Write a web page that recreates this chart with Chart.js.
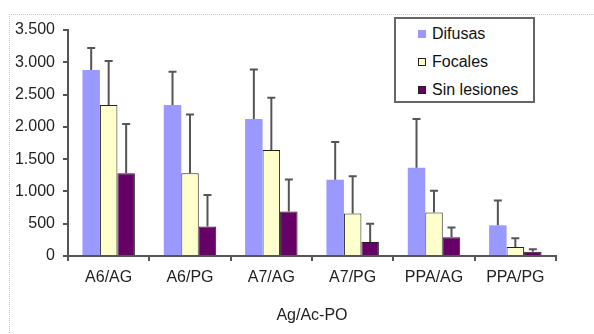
<!DOCTYPE html>
<html>
<head>
<meta charset="utf-8">
<script src="https://cdn.jsdelivr.net/npm/chart.js@4.4.1/dist/chart.umd.min.js"></script>
<style>
  html, body { margin:0; padding:0; background:#fff; }
  #wrap { position:relative; width:594px; height:334px; overflow:hidden; font-family:"Liberation Sans", Arial, sans-serif; }
  #frame { position:absolute; left:9px; top:14px; width:600px; height:330px; border-top:1px dotted #c8c8c8; border-left:1px dotted #c8c8c8; }
  #c { position:absolute; left:0; top:0; }
  #legend { position:absolute; left:394px; top:17px; width:137px; height:82px; border:2px solid #666; background:#fff; }
  .item { position:absolute; left:22px; font-size:16px; color:#111; line-height:18px; }
  .sw { display:inline-block; width:6px; height:6px; margin-right:6px; vertical-align:1px; }
</style>
</head>
<body>
<div id="wrap">
  <div id="frame"></div>
  <canvas id="c" width="594" height="334"></canvas>
  <div id="legend"></div>
</div>
<script>
const categories = ['A6/AG', 'A6/PG', 'A7/AG', 'A7/PG', 'PPA/AG', 'PPA/PG'];
const seriesNames = ['Difusas', 'Focales', 'Sin lesiones'];
const difusas = [2880, 2340, 2120, 1180, 1365, 475];
const difusasErr = [340, 515, 770, 585, 755, 385];
const focales = [2340, 1280, 1640, 660, 675, 140];
const focalesErr = [680, 910, 810, 575, 335, 135];
const sinLesiones = [1280, 455, 690, 215, 290, 65];
const sinLesionesErr = [765, 490, 495, 285, 150, 40];
const yTickLabels = ['0', '500', '1.000', '1.500', '2.000', '2.500', '3.000', '3.500'];
const xAxisTitle = 'Ag/Ac-PO';

const fills = ['#9999ff', '#ffffcc', '#660066'];
const borders = ['#9999ff', '#222222', '#222222'];
const errs = [difusasErr, focalesErr, sinLesionesErr];

const errorBars = {
  id: 'errorBars',
  afterDatasetsDraw(chart) {
    const ctx = chart.ctx;
    const y = chart.scales.y;
    ctx.save();
    ctx.strokeStyle = '#555';
    ctx.lineWidth = 2;
    chart.data.datasets.forEach((ds, di) => {
      const meta = chart.getDatasetMeta(di);
      meta.data.forEach((bar, i) => {
        const top = y.getPixelForValue(ds.data[i] + errs[di][i]);
        ctx.beginPath();
        ctx.moveTo(bar.x, bar.y);
        ctx.lineTo(bar.x, top);
        ctx.moveTo(bar.x - 4, top);
        ctx.lineTo(bar.x + 4, top);
        ctx.stroke();
      });
    });
    ctx.restore();
  }
};

const font = { family: '"Liberation Sans", Arial, sans-serif', size: 16 };

new Chart(document.getElementById('c'), {
  type: 'bar',
  data: {
    labels: categories,
    datasets: [
      { label: seriesNames[0], data: difusas, backgroundColor: fills[0], borderColor: borders[0], borderWidth: 0 },
      { label: seriesNames[1], data: focales, backgroundColor: fills[1], borderColor: borders[1], borderWidth: 1 },
      { label: seriesNames[2], data: sinLesiones, backgroundColor: fills[2], borderColor: borders[2], borderWidth: 1 }
    ]
  },
  options: {
    responsive: false,
    animation: false,
    layout: { padding: { left: 0, right: 38, top: 30, bottom: 0 } },
    plugins: { legend: { display: false }, tooltip: { enabled: false } },
    datasets: { bar: { categoryPercentage: 0.645, barPercentage: 1 } },
    scales: {
      x: {
        afterFit(s) { s.height = 78; },
        grid: { drawOnChartArea: false, drawTicks: true, tickLength: 5, color: '#555', lineWidth: 2, offset: true },
        border: { color: '#555', width: 2 },
        ticks: { font, color: '#222', padding: 7, maxRotation: 0 },
        title: { display: true, text: xAxisTitle, font, color: '#222', padding: { top: 0, bottom: 9 } }
      },
      y: {
        min: 0, max: 3500,
        afterFit(s) { s.width = 68; },
        grid: { drawOnChartArea: false, drawTicks: true, tickLength: 5, color: '#555', lineWidth: 2 },
        border: { color: '#555', width: 2 },
        ticks: { stepSize: 500, font, color: '#222', padding: 8, callback: (v, i) => yTickLabels[i] }
      }
    }
  },
  plugins: [errorBars]
});

const lg = document.getElementById('legend');
seriesNames.forEach((n, i) => {
  const d = document.createElement('div');
  d.className = 'item';
  d.style.top = (6 + i * 28) + 'px';
  const sw = document.createElement('span');
  sw.className = 'sw';
  sw.style.background = fills[i];
  sw.style.border = '1px solid ' + (i === 0 ? fills[0] : '#222');
  d.appendChild(sw);
  d.appendChild(document.createTextNode(n));
  lg.appendChild(d);
});
</script>
</body>
</html>
